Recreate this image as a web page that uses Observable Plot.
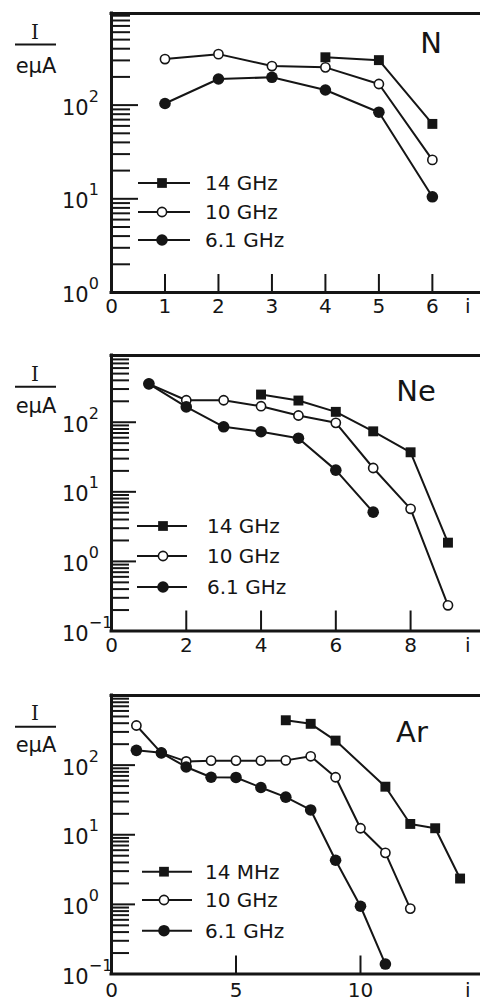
<!DOCTYPE html>
<html><head><meta charset="utf-8">
<script src="https://cdn.jsdelivr.net/npm/d3@7"></script>
<script src="https://cdn.jsdelivr.net/npm/@observablehq/plot@0.6"></script>
<style>
body{margin:0;background:#fff;overflow:hidden;}
#wrap{position:relative;width:480px;height:1006px;}
#wrap svg{display:block;}
</style></head><body><div id="wrap"></div>
<script>
// ---- data (charge state i, extracted current I in eμA) ----
const nIons14 = [4, 5, 6],                 nCur14 = [324, 302, 63];
const nIons10 = [1, 2, 3, 4, 5, 6],        nCur10 = [310, 350, 261, 253, 168, 26];
const nIons61 = [1, 2, 3, 4, 5, 6],        nCur61 = [104, 190, 198, 145, 84, 10.5];

const neIons14 = [4, 5, 6, 7, 8, 9],       neCur14 = [250, 205, 141, 74, 37, 1.86];
const neIons10 = [1, 2, 3, 4, 5, 6, 7, 8, 9], neCur10 = [356, 207, 207, 170, 125, 98, 22, 5.7, 0.234];
const neIons61 = [1, 2, 3, 4, 5, 6, 7],    neCur61 = [356, 166, 86, 73, 59, 20.5, 5.1];

const arIons14 = [7, 8, 9, 11, 12, 13, 14], arCur14 = [441, 392, 225, 49, 14.3, 12.4, 2.35];
const arIons10 = [1, 2, 3, 4, 5, 6, 7, 8, 9, 10, 11, 12], arCur10 = [371, 150, 113, 116, 116, 116, 117, 134, 67, 12.4, 5.5, 0.87];
const arIons61 = [1, 2, 3, 4, 5, 6, 7, 8, 9, 10, 11], arCur61 = [163, 150, 94, 67, 66.5, 47.7, 34.7, 22.7, 4.3, 0.94, 0.139];

const elements = ["N", "Ne", "Ar"];
const legendN = ["14 GHz", "10 GHz", "6.1 GHz"];
const legendNe = ["14 GHz", "10 GHz", "6.1 GHz"];
const legendAr = ["14 MHz", "10 GHz", "6.1 GHz"];

const xTicksN = [1, 2, 3, 4, 5, 6],  xLabelsN = [0, 1, 2, 3, 4, 5, 6];
const xTicksNe = [2, 4, 6, 8],       xLabelsNe = [0, 2, 4, 6, 8];
const xTicksAr = [5, 10],            xLabelsAr = [0, 5, 10];
const yLabelsN = [1, 10, 100];
const yLabelsNe = [0.1, 1, 10, 100];
const yLabelsAr = [0.1, 1, 10, 100];

function minorTicks(lo, hi) {
  const out = [];
  for (let e = Math.floor(Math.log10(lo)); e <= Math.ceil(Math.log10(hi)); e++)
    for (let m = 2; m <= 9; m++) { const v = m * Math.pow(10, e); if (v > lo && v < hi) out.push(v); }
  return out;
}
const pairs = (xs, ys) => xs.map((x, k) => ({i: x, I: ys[k]}));

const INK = "#151515";
const FONT = "DejaVu Sans";

function panel(cfg) {
  const W = 480;
  const plotW = W - cfg.left;
  const plotH = cfg.height - cfg.top - cfg.bottom;
  const s14 = pairs(cfg.i14, cfg.c14), s10 = pairs(cfg.i10, cfg.c10), s61 = pairs(cfg.i61, cfg.c61);
  const majors = cfg.yLabels.filter(d => d > cfg.yDomain[0]);
  const svg = Plot.plot({
    width: W, height: cfg.height,
    marginLeft: cfg.left, marginRight: 0, marginTop: cfg.top, marginBottom: cfg.bottom,
    x: {domain: [0, cfg.xMax], axis: null},
    y: {type: "log", domain: cfg.yDomain, axis: null},
    style: {fontFamily: FONT, color: INK, background: "white"},
    marks: [
      Plot.tickY(minorTicks(cfg.yDomain[0], cfg.yDomain[1]), {y: d => d, insetRight: plotW - cfg.minorLen, stroke: INK, strokeWidth: 2}),
      Plot.tickY(majors, {y: d => d, insetRight: plotW - cfg.majorLen, stroke: INK, strokeWidth: 2}),
      Plot.tickX(cfg.xTicks, {x: d => d, insetTop: plotH - cfg.xTickLen, stroke: INK, strokeWidth: 2}),
      Plot.ruleY(cfg.yDomain, {stroke: INK, strokeWidth: 3, strokeLinecap: "square"}),
      Plot.ruleX([0], {stroke: INK, strokeWidth: 3, strokeLinecap: "square"}),
      Plot.line(s14, {x: "i", y: "I", stroke: INK, strokeWidth: 2}),
      Plot.line(s10, {x: "i", y: "I", stroke: INK, strokeWidth: 2}),
      Plot.line(s61, {x: "i", y: "I", stroke: INK, strokeWidth: 2}),
      Plot.dot(s14, {x: "i", y: "I", symbol: "square", r: 5.6, fill: INK, stroke: "none"}),
      Plot.dot(s10, {x: "i", y: "I", r: 4.6, fill: "white", stroke: INK, strokeWidth: 1.6}),
      Plot.dot(s61, {x: "i", y: "I", r: 5.8, fill: INK, stroke: "none"}),
      Plot.text(cfg.xLabels, {x: d => d, frameAnchor: "bottom", dy: cfg.xLabelDy, text: d => String(d), fontSize: 20, fill: INK}),
      Plot.text(["i"], {frameAnchor: "bottom-right", dx: -10, dy: cfg.xLabelDy, fontSize: 20, fill: INK})
    ]
  });
  const sel = d3.select(svg);
  const yScale = svg.scale("y");
  const g = sel.append("g").attr("fill", INK).style("font-family", FONT);
  // y tick labels 10^n, positioned by the plot's own y scale
  cfg.yLabels.forEach(d => {
    const e = Math.round(Math.log10(d));
    const t = g.append("text").attr("x", cfg.left - 49).attr("y", yScale.apply(d) + 10)
      .style("font-size", "21px").style("text-anchor", "start");
    t.append("tspan").text("10");
    t.append("tspan").attr("dy", -13).style("font-size", "16px").text(e < 0 ? "\u2212" + (-e) : String(e));
  });
  // y-axis unit label  I / eμA
  g.append("text").attr("x", 35).attr("y", cfg.unitY[0]).style("text-anchor", "middle").attr("dominant-baseline", "central")
    .style("font-family", "DejaVu Serif").style("font-size", "20px").text("I");
  g.append("line").attr("x1", 15).attr("x2", 56).attr("y1", cfg.unitY[1]).attr("y2", cfg.unitY[1]).attr("stroke", INK).attr("stroke-width", 2);
  g.append("text").attr("x", 36).attr("y", cfg.unitY[2]).style("text-anchor", "middle").attr("dominant-baseline", "central")
    .style("font-size", "21px").text("eμA");
  // element name
  g.append("text").attr("x", cfg.elem[1]).attr("y", cfg.elem[2]).style("text-anchor", "middle").attr("dominant-baseline", "central")
    .style("font-size", "29px").text(cfg.elem[0]);
  // legend
  const L = cfg.legend;
  const syms = [d3.symbol(d3.symbolSquare, 95)(), null, d3.symbol(d3.symbolCircle, Math.PI * 5.8 * 5.8)()];
  L.labels.forEach((lab, k) => {
    const y = L.rows[k];
    g.append("line").attr("x1", L.x1).attr("x2", L.x2).attr("y1", y).attr("y2", y).attr("stroke", INK).attr("stroke-width", 2);
    if (k === 1) g.append("circle").attr("cx", L.mx).attr("cy", y).attr("r", 4.6).attr("fill", "white").attr("stroke", INK).attr("stroke-width", 1.6);
    else g.append("path").attr("d", syms[k]).attr("transform", `translate(${L.mx},${y})`).attr("fill", INK);
    g.append("text").attr("x", L.tx).attr("y", y).attr("dominant-baseline", "central")
      .style("text-anchor", "start").style("font-size", "20px").text(lab);
  });
  return svg;
}

const wrap = document.getElementById("wrap");
wrap.appendChild(panel({
  height: 330, top: 13, bottom: 38, left: 111, xMax: 6.9, yDomain: [1, 950],
  i14: nIons14, c14: nCur14, i10: nIons10, c10: nCur10, i61: nIons61, c61: nCur61,
  xTicks: xTicksN, xLabels: xLabelsN, yLabels: yLabelsN,
  xTickLen: 18, minorLen: 19, majorLen: 27, xLabelDy: 20,
  unitY: [32, 44.5, 66], elem: [elements[0], 431, 43],
  legend: {labels: legendN, rows: [183, 212, 240], x1: 138, x2: 190, mx: 162, tx: 205}
}));
wrap.appendChild(panel({
  height: 330, top: 25, bottom: 29.5, left: 111, xMax: 9.87, yDomain: [0.1, 910],
  i14: neIons14, c14: neCur14, i10: neIons10, c10: neCur10, i61: neIons61, c61: neCur61,
  xTicks: xTicksNe, xLabels: xLabelsNe, yLabels: yLabelsNe,
  xTickLen: 20, minorLen: 18, majorLen: 25, xLabelDy: 21,
  unitY: [44, 56.7, 76], elem: [elements[1], 416, 61],
  legend: {labels: legendNe, rows: [196, 226, 257], x1: 137, x2: 187, mx: 163, tx: 207}
}));
wrap.appendChild(panel({
  height: 346, top: 35, bottom: 32.5, left: 111, xMax: 14.82, yDomain: [0.1, 1000],
  i14: arIons14, c14: arCur14, i10: arIons10, c10: arCur10, i61: arIons61, c61: arCur61,
  xTicks: xTicksAr, xLabels: xLabelsAr, yLabels: yLabelsAr,
  xTickLen: 18, minorLen: 18, majorLen: 24, xLabelDy: 23,
  unitY: [53, 66.7, 85], elem: [elements[2], 412, 72],
  legend: {labels: legendAr, rows: [211.7, 240, 270.7], x1: 142, x2: 192, mx: 164, tx: 205}
}));
</script></body></html>
